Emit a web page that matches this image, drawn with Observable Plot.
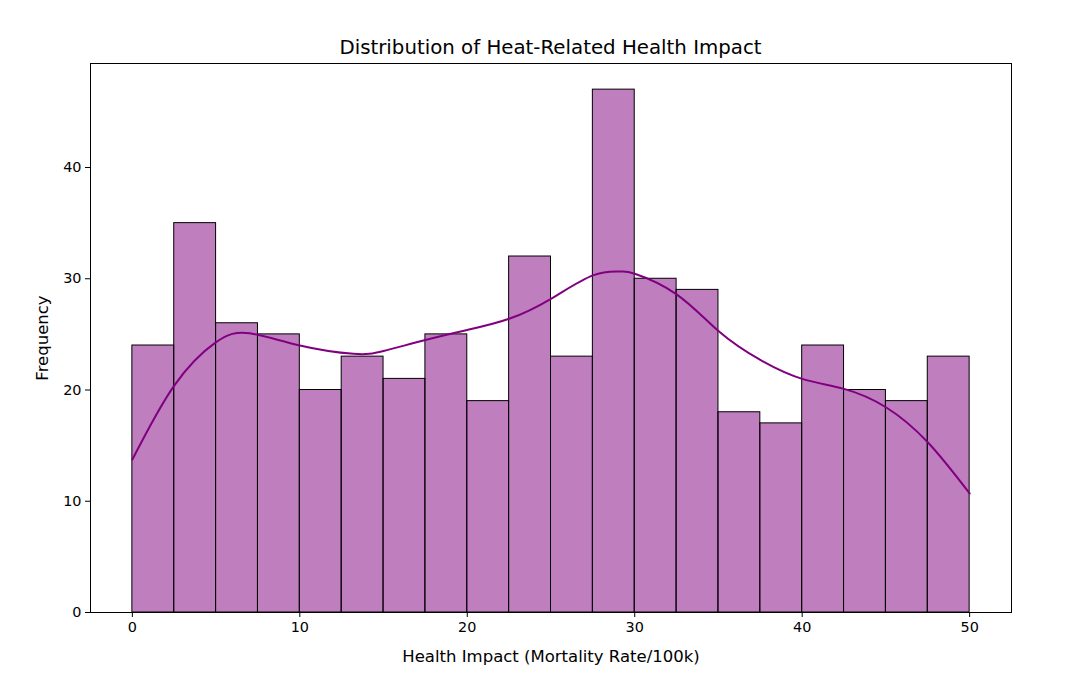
<!DOCTYPE html>
<html>
<head>
<meta charset="utf-8">
<script src="https://cdn.jsdelivr.net/npm/d3@7"></script>
<script src="https://cdn.jsdelivr.net/npm/@observablehq/plot@0.6"></script>
<style>
  body { margin: 0; background: #fff; font-family: "DejaVu Sans", sans-serif; }
  #wrap { position: relative; width: 1066px; height: 690px; }
  #title { position: absolute; top: 36px; left: 0; width: 1101px; text-align: center;
           font-size: 19.8px; line-height: 24px; color: #000; }
</style>
</head>
<body>
<div id="wrap">
  <div id="title">Distribution of Heat-Related Health Impact</div>
  <div id="chart"></div>
</div>
<script>
const binStarts = [0, 2.5, 5, 7.5, 10, 12.5, 15, 17.5, 20, 22.5, 25, 27.5, 30, 32.5, 35, 37.5, 40, 42.5, 45, 47.5];
const binWidth = 2.5;
const counts = [24, 35, 26, 25, 20, 23, 21, 25, 19, 32, 23, 47, 30, 29, 18, 17, 24, 20, 19, 23];

const kdeX = [0, 2.5, 5, 7, 10, 13.2, 15, 17.5, 20, 22.5, 25, 27.5, 29.1, 30, 32.5, 35, 37.5, 40, 42.5, 45, 47.5, 50];
const kdeY = [13.75, 20.4, 24.3, 25.1, 24.0, 23.25, 23.5, 24.5, 25.4, 26.4, 28.2, 30.3, 30.65, 30.45, 28.6, 25.3, 22.7, 21.0, 20.1, 18.45, 15.3, 10.7];

const xTicks = [0, 10, 20, 30, 40, 50];
const yTicks = [0, 10, 20, 30, 40];

const bins = binStarts.map((s, i) => ({x1: s, x2: s + binWidth, y: counts[i]}));
const kde = kdeX.map((x, i) => ({x, y: kdeY[i]}));

const chart = Plot.plot({
  width: 1066,
  height: 690,
  marginLeft: 90,
  marginRight: 55,
  marginTop: 63,
  marginBottom: 78,
  style: {fontFamily: "DejaVu Sans, sans-serif", fontSize: "14.4px", color: "#000", background: "#fff"},
  x: {domain: [-2.5, 52.5]},
  y: {domain: [0, 49.35]},
  marks: [
    Plot.rect(bins, {x1: "x1", x2: "x2", y1: 0, y2: "y", fill: "#800080", fillOpacity: 0.5, stroke: "#000", strokeWidth: 1}),
    Plot.line(kde, {x: "x", y: "y", stroke: "#800080", strokeWidth: 2, curve: "natural"}),
    Plot.frame({stroke: "#000", strokeWidth: 1}),
    Plot.axisX({ticks: xTicks, tickSize: 5, tickPadding: 4, tickFormat: d => String(d), label: null, fontSize: 14.4}),
    Plot.axisY({ticks: yTicks, tickSize: 5, tickPadding: 4, tickFormat: d => String(d), label: null, fontSize: 14.4}),
    Plot.text(["Health Impact (Mortality Rate/100k)"], {frameAnchor: "bottom", dy: 44, fontSize: 16.5, fill: "#000", lineAnchor: "middle", textAnchor: "middle"}),
    Plot.text(["Frequency"], {frameAnchor: "left", dx: -48, rotate: -90, fontSize: 16.5, fill: "#000", lineAnchor: "middle", textAnchor: "middle"})
  ]
});
document.getElementById("chart").appendChild(chart);
</script>
</body>
</html>
